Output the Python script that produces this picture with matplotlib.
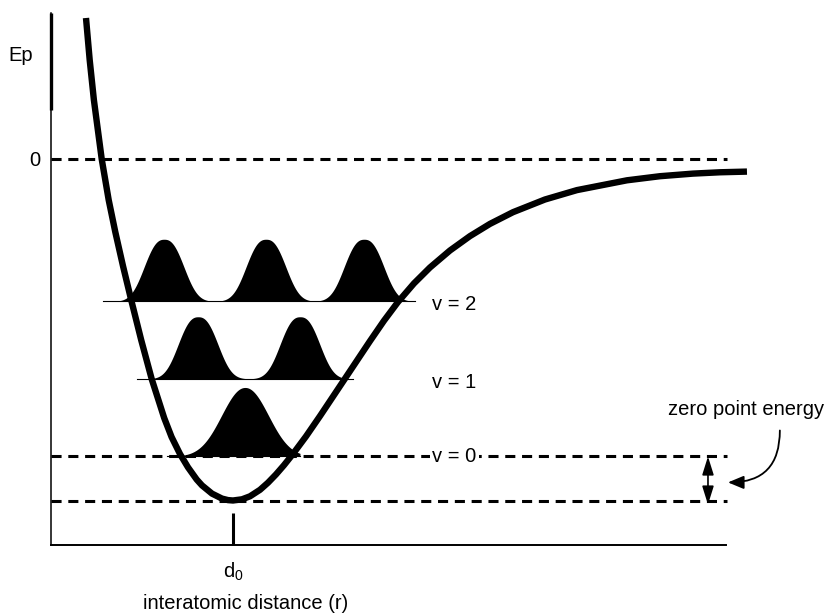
import numpy as np
import matplotlib.pyplot as plt

plt.rcParams['font.family'] = ['Liberation Sans', 'DejaVu Sans']
plt.rcParams['mathtext.fontset'] = 'custom'
plt.rcParams['mathtext.rm'] = 'Liberation Sans'
plt.rcParams['mathtext.it'] = 'Liberation Sans:italic'

# potential energy curve
# r in units of d0, E in units of the well depth (E = 0 at dissociation)
r_curve = [0.1923, 0.2126, 0.2357, 0.2786, 0.3170, 0.3533, 0.3956, 0.4407, 0.4956, 0.5533,
           0.6220, 0.6626, 0.7088, 0.7527, 0.8005, 0.8297, 0.8846, 0.9396, 0.9725, 1.0000,
           1.0495, 1.0934, 1.1484, 1.1923, 1.2363, 1.2802, 1.3297, 1.4011, 1.4780, 1.6154,
           1.7527, 1.8297, 1.9066, 1.9945, 2.0824, 2.1923, 2.3022, 2.4121, 2.5385, 2.7143,
           2.8901, 3.1648, 3.3462, 3.5275, 3.6758, 3.8242]
E_curve = [0.4129, 0.2899, 0.1728, 0.0000, -0.1201, -0.2138, -0.3133, -0.4129, -0.5300, -0.6442,
           -0.7584, -0.8141, -0.8638, -0.9028, -0.9385, -0.9558, -0.9798, -0.9944, -0.9988, -1.0000,
           -0.9965, -0.9877, -0.9687, -0.9479, -0.9236, -0.8966, -0.8635, -0.8123, -0.7528, -0.6430,
           -0.5332, -0.4735, -0.4187, -0.3643, -0.3177, -0.2679, -0.2258, -0.1900, -0.1558, -0.1186,
           -0.0911, -0.0624, -0.0504, -0.0428, -0.0389, -0.0369]

d0 = 1.0
E_min = -1.0

# vibrational levels v = 0, 1, 2
level_names = ['v = 0', 'v = 1', 'v = 2']
E_levels = [-0.871, -0.644, -0.417]
level_r0 = [0.637, 0.473, 0.286]   # start of level line
level_r1 = [1.368, 1.659, 2.000]   # end of level line
# probability humps on each level: peak positions, height, half width, flatness
hump_r = [[1.066], [0.808, 1.368], [0.621, 1.181, 1.720]]
hump_h = [0.202, 0.182, 0.182]
hump_s = [0.176, 0.135, 0.135]
hump_p = [2.1, 2.5, 2.5]

fs = 14.5

fig = plt.figure(figsize=(8.32, 6.14), dpi=100)
ax = fig.add_axes([51 / 832, 69 / 614, 675 / 832, 532 / 614])
ax.set_xlim(0, 3.709)
ax.set_ylim(-1.1303, 0.4275)
ax.spines['top'].set_visible(False)
ax.spines['right'].set_visible(False)
ax.spines['left'].set_linewidth(1.1)
ax.spines['bottom'].set_linewidth(1.4)
# heavier top part of the energy axis
ax.plot([0, 0], [0.144, 0.4275], color='k', lw=2.4, solid_capstyle='butt', clip_on=False)

# dashed reference lines: dissociation, zero point level, bottom of the well
for e in [0.0, E_levels[0], E_min]:
    ax.axhline(e, 0, 1.002, color='k', lw=2.2, dashes=(3.3, 2.2), clip_on=False, zorder=1)

# probability densities sitting on each level
for E0, cs, h, s, pw, a, b in zip(E_levels, hump_r, hump_h, hump_s, hump_p, level_r0, level_r1):
    r = np.linspace(a, b, 600)
    dens = sum(h * np.exp(-(np.abs(r - c) / s) ** pw) for c in cs)
    ax.fill_between(r, E0, E0 + dens, color='k', lw=0, zorder=2)
    ax.plot([a, b], [E0, E0], color='k', lw=0.8, zorder=2)

# potential energy curve
ax.plot(r_curve, E_curve, color='k', lw=4.6, solid_joinstyle='round',
        solid_capstyle='butt', clip_on=False, zorder=5)

# level labels
for name, e in zip(level_names, E_levels):
    bb = dict(boxstyle='square,pad=0.1', fc='white', ec='none') if name == 'v = 0' else None
    ax.text(2.095, e - 0.01 if name != 'v = 0' else e, name, fontsize=fs,
            ha='left', va='center', bbox=bb, zorder=3)

# zero point energy markers
ax.annotate('', xy=(3.610, -1.012), xytext=(3.610, E_levels[0]),
            arrowprops=dict(arrowstyle='<|-|>,head_length=0.8,head_width=0.25',
                            color='k', lw=1.2, mutation_scale=14, shrinkA=0, shrinkB=0),
            annotation_clip=False)
ax.text(3.819, -0.733, 'zero point energy', fontsize=fs, ha='center', va='center')
ax.annotate('', xy=(3.720, -0.947), xytext=(4.005, -0.795),
            arrowprops=dict(arrowstyle='-|>,head_length=0.6,head_width=0.25',
                            connectionstyle='arc3,rad=-0.5', color='k', lw=1.3,
                            mutation_scale=16, shrinkA=0, shrinkB=0),
            annotation_clip=False)

# axes labels
ax.set_xticks([d0], ['d$_0$'])
ax.tick_params(axis='x', direction='in', length=23, width=2.2, pad=11, labelsize=fs)
ax.set_yticks([0], ['0'])
ax.tick_params(axis='y', length=0, pad=8, labelsize=fs)
ax.text(-0.165, 0.302, 'Ep', fontsize=fs, ha='center', va='center')
ax.text(1.071, -1.302, 'interatomic distance (r)', fontsize=fs, ha='center', va='center')

fig.savefig('out.png', dpi=100)
